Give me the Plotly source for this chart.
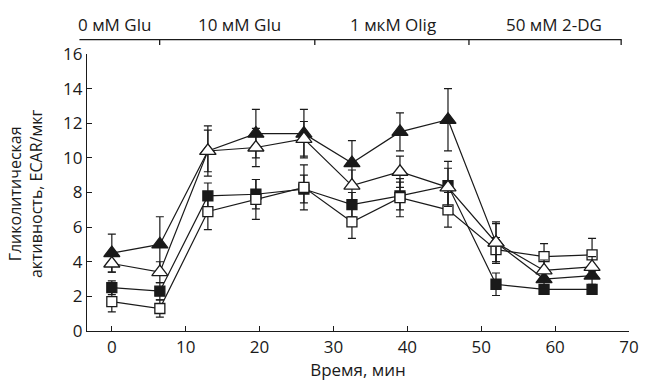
import plotly.graph_objects as go

time_min = [0, 6.5, 13, 19.5, 26, 32.5, 39, 45.5, 52, 58.5, 65]

tri_filled = [4.5, 5.0, 10.4, 11.4, 11.4, 9.7, 11.5, 12.2, 5.1, 3.0, 3.2]
tri_filled_err = [1.1, 1.6, 1.45, 1.4, 1.4, 1.3, 1.1, 1.8, 1.1, 0.5, 0.5]

tri_open = [3.9, 3.4, 10.4, 10.6, 11.1, 8.4, 9.2, 8.3, 5.1, 3.5, 3.7]
tri_open_err = [0.5, 0.6, 1.2, 1.1, 1.0, 0.9, 0.9, 1.1, 1.2, 0.6, 0.6]

sq_filled = [2.5, 2.3, 7.8, 7.9, 8.2, 7.3, 7.8, 8.4, 2.7, 2.4, 2.4]
sq_filled_err = [0.4, 0.5, 0.75, 0.85, 0.8, 0.7, 0.8, 1.4, 0.65, 0.2, 0.2]

sq_open = [1.7, 1.3, 6.9, 7.6, 8.3, 6.3, 7.7, 7.0, 4.7, 4.3, 4.4]
sq_open_err = [0.6, 0.5, 1.05, 1.15, 1.3, 0.95, 1.1, 1.0, 0.7, 0.75, 0.95]

phase_labels = ["0 мМ Glu", "10 мМ Glu", "1 мкМ Olig", "50 мМ 2-DG"]

FONT = "Open Sans"
FS = 17
BLACK = "#1a1a1a"

fig = go.Figure()

series = [
    (sq_filled, sq_filled_err, "square", BLACK, 10),
    (sq_open, sq_open_err, "square", "white", 10),
    (tri_filled, tri_filled_err, "triangle-up", BLACK, 14),
    (tri_open, tri_open_err, "triangle-up", "white", 14),
]
for yv, ev, sym, fill, size in series:
    fig.add_trace(go.Scatter(
        x=time_min, y=yv, mode="lines+markers",
        line=dict(color=BLACK, width=1.2),
        marker=dict(symbol=sym, size=size, color=fill,
                    line=dict(color=BLACK, width=1.3)),
        error_y=dict(type="data", array=ev, visible=True,
                     color=BLACK, thickness=1.2, width=4),
        showlegend=False, cliponaxis=False,
    ))

L, R, T, B = 87, 10, 54, 50
W, H = 649, 383
pw = W - L - R

def px_to_paper_x(px):
    return (px - L) / pw

def py_to_paper_y(py):
    return (H - B - py) / (H - T - B)

# top bracket
line_y = py_to_paper_y(39.5)
tick_y = py_to_paper_y(45)
shapes = [dict(type="line", xref="paper", yref="paper",
               x0=px_to_paper_x(79.3), x1=px_to_paper_x(631.5),
               y0=line_y, y1=line_y, line=dict(color=BLACK, width=1.3))]
for tx in [161, 319, 476, 631]:
    xp = px_to_paper_x(tx)
    shapes.append(dict(type="line", xref="paper", yref="paper",
                       x0=xp, x1=xp, y0=line_y, y1=tick_y,
                       line=dict(color=BLACK, width=1.3)))

annotations = []
for lab, cx in zip(phase_labels, [115, 242, 399, 563]):
    annotations.append(dict(text=lab, xref="paper", yref="paper",
                            x=px_to_paper_x(cx), y=py_to_paper_y(24.5),
                            xanchor="center", yanchor="middle", showarrow=False,
                            font=dict(family=FONT, size=FS, color=BLACK)))

annotations.append(dict(text="Гликолитическая<br>активность, ECAR/мкг",
                        xref="paper", yref="paper",
                        x=px_to_paper_x(25), y=py_to_paper_y(195),
                        xanchor="center", yanchor="middle", textangle=-90,
                        showarrow=False,
                        font=dict(family=FONT, size=16, color=BLACK)))

fig.update_layout(
    width=W, height=H,
    margin=dict(l=L, r=R, t=T, b=B),
    paper_bgcolor="white", plot_bgcolor="white",
    font=dict(family=FONT, size=FS, color=BLACK),
    shapes=shapes, annotations=annotations,
    xaxis=dict(range=[-3.36, 70], tickvals=[0, 10, 20, 30, 40, 50, 60, 70],
               ticks="inside", ticklen=5, tickwidth=1.2, tickcolor=BLACK,
               showline=True, linecolor=BLACK, linewidth=1.3,
               showgrid=False, zeroline=False,
               title=dict(text="Время, мин", standoff=4,
                          font=dict(family=FONT, size=FS))),
    yaxis=dict(range=[0, 16], tickvals=list(range(0, 17, 2)),
               ticks="inside", ticklen=5, tickwidth=1.2, tickcolor=BLACK,
               showline=True, linecolor=BLACK, linewidth=1.3,
               showgrid=False, zeroline=False),
)

fig.write_html("out.html",
               config={"displayModeBar": False},
               post_script="document.body.style.margin='0';document.body.style.padding='0';")
